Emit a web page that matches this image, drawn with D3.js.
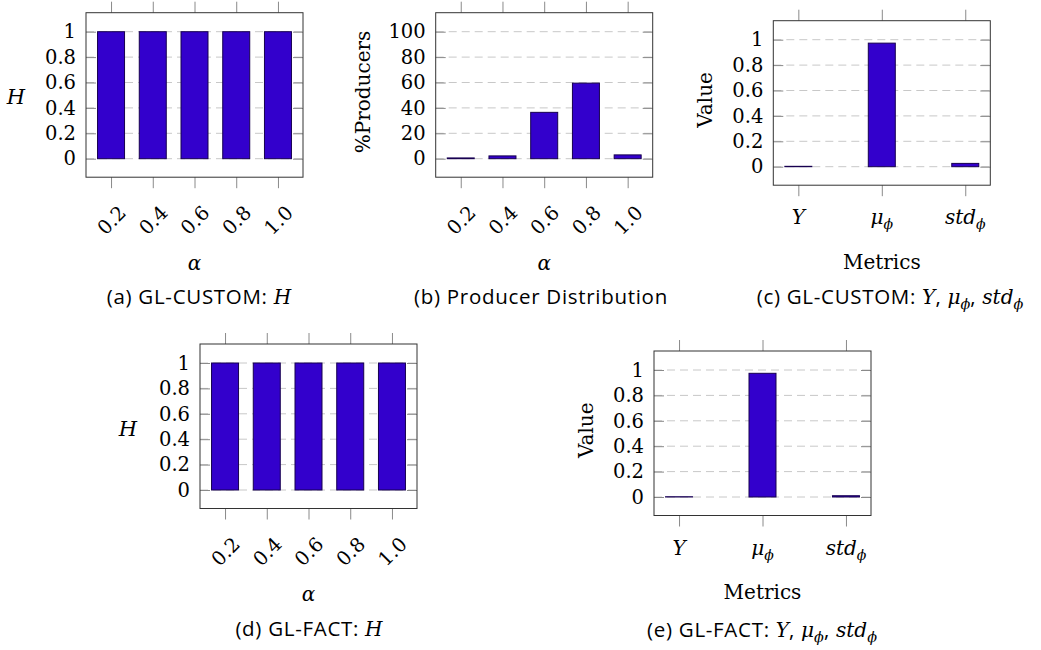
<!DOCTYPE html>
<html><head><meta charset="utf-8">
<script src="https://cdn.jsdelivr.net/npm/d3@7"></script>
<style>body{margin:0;background:#fff}</style>
</head><body><svg id="c" width="1041" height="650"></svg>
<script>
// ---- data ----
const alphaLabels = ["0.2","0.4","0.6","0.8","1.0"];
const hCustom = [1,1,1,1,1];
const producerPct = [0.6,2.2,36.5,59.5,3.0];
const metricNames = ["Y","μ","std"];
const metricSubs = ["","ϕ","ϕ"];
const metricsCustom = [0.003,0.973,0.026];
const hFact = [1,1,1,1,1];
const metricsFact = [0.002,0.974,0.01];
const unitTicks = [0,0.2,0.4,0.6,0.8,1];
const pctTicks = [0,20,40,60,80,100];

const SERIF = "'DejaVu Serif', serif";
const SANS = "'Open Sans', sans-serif";
const svg = d3.select("#c");
const W = 217, H = 164.5;

function rich(sel, parts, baseSize){
  let shifted = false;
  parts.forEach(p=>{
    const t = sel.append("tspan").text(p.t);
    if(p.sub){
      t.attr("font-family",SERIF).attr("font-style","italic").attr("font-size",baseSize*0.7).attr("dy",5).attr("letter-spacing",0);
      shifted = true;
    } else {
      if(shifted){ t.attr("dy",-5); shifted=false; }
      if(p.it){ t.attr("font-family",SERIF).attr("font-style","italic").attr("font-size",baseSize*0.98).attr("letter-spacing",0); }
    }
  });
}

function panel(o){
  const g = svg.append("g").attr("transform",`translate(${o.left},${o.top})`);
  const n = o.values.length;
  const pad = n===5?0.6:0.3;
  const x = d3.scaleLinear().domain([-pad,n-1+pad]).range([0,W]);
  const y = d3.scaleLinear().domain([-o.max*18.5/127, o.max*(1+19/127)]).range([H,0]);

  g.append("g").selectAll("line").data(o.ticks).join("line")
    .attr("x1",0).attr("x2",W).attr("y1",d=>y(d)).attr("y2",d=>y(d))
    .attr("stroke","#c8c8c8").attr("stroke-width",1).attr("stroke-dasharray","8,5");

  g.append("g").selectAll("rect").data(o.values).join("rect")
    .attr("x",(d,i)=>x(i)-13.5).attr("width",27)
    .attr("y",d=>y(d)).attr("height",d=>Math.max(0,y(0)-y(d)))
    .attr("fill","#3300cc").attr("stroke","#17004f").attr("stroke-width",1);

  const styleAxis = a=>{ a.select(".domain").remove(); a.selectAll(".tick line").attr("stroke","#8a8a8a"); };
  const la = g.append("g").call(d3.axisLeft(y).tickValues(o.ticks).tickSize(-10).tickPadding(10).tickFormat(o.fmt));
  styleAxis(la);
  la.attr("font-family",SERIF).attr("font-size",19.5);
  la.selectAll("text").attr("fill","#000");
  styleAxis(g.append("g").attr("transform",`translate(${W},0)`).call(d3.axisRight(y).tickValues(o.ticks).tickSize(-10).tickFormat("")));
  styleAxis(g.append("g").call(d3.axisTop(x).tickValues(d3.range(n)).tickSize(11).tickFormat("")));
  styleAxis(g.append("g").attr("transform",`translate(0,${H})`).call(d3.axisBottom(x).tickValues(d3.range(n)).tickSize(11).tickFormat("")));

  g.append("rect").attr("width",W).attr("height",H).attr("fill","none").attr("stroke","#333").attr("stroke-width",1);

  // x labels
  if(o.rotated){
    g.append("g").selectAll("text").data(o.cats).join("text")
      .attr("transform",(d,i)=>`translate(${x(i)+0.5},${H+43}) rotate(-45)`)
      .attr("text-anchor","middle").attr("dy","0.35em")
      .attr("font-family",SERIF).attr("font-size",19.5).text(d=>d);
  } else {
    g.append("g").selectAll("text").data(o.cats).join("text")
      .attr("x",(d,i)=>x(i)).attr("y",H+32).attr("dy","0.35em")
      .attr("text-anchor","middle").attr("font-family",SERIF).attr("font-style","italic").attr("font-size",20)
      .each(function(d,i){ const s=d3.select(this); s.append("tspan").text(d);
        if(o.subs[i]) s.append("tspan").attr("font-size",14).attr("dy",5).text(o.subs[i]); });
  }
  // x title
  g.append("text").attr("x",W/2).attr("y",H+o.xtY).attr("dy","0.35em").attr("text-anchor","middle")
    .attr("font-family",SERIF).attr("font-size",20).attr("font-style",o.xtIt?"italic":"normal").text(o.xtitle);
  // y title
  if(o.yRot){
    g.append("text").attr("transform",`translate(${o.yX},${H/2-3}) rotate(-90)`).attr("dy","0.35em")
      .attr("text-anchor","middle").attr("font-family",SERIF).attr("font-size",20).text(o.ytitle);
  } else {
    g.append("text").attr("x",o.yX).attr("y",H/2+2).attr("dy","0.35em").attr("text-anchor","middle")
      .attr("font-family",SERIF).attr("font-style","italic").attr("font-size",21).text(o.ytitle);
  }
  // caption
  const cap = svg.append("text").attr("x",o.capX).attr("y",o.top+H+o.capY).attr("dy","0.35em")
    .attr("text-anchor","middle").attr("font-family",SANS).attr("font-size",20.5).attr("letter-spacing",0.7)
    .attr("fill","#000");
  rich(cap,o.caption,20.5);
}

const fmtUnit = d=> (d===0||d===1)? String(d) : d3.format(".1f")(d);
const fmtPct = d=> String(d);
const capMetrics = lab=>[{t:lab},{t:"Y",it:1},{t:", "},{t:"μ",it:1},{t:"ϕ",sub:1},{t:", "},{t:"std",it:1},{t:"ϕ",sub:1}];

panel({left:86,top:12.7,values:hCustom,cats:alphaLabels,rotated:true,ticks:unitTicks,max:1,fmt:fmtUnit,
  xtitle:"α",xtIt:true,xtY:86,ytitle:"H",yRot:false,yX:-70,capX:199,capY:120,
  caption:[{t:"(a) GL-CUSTOM: "},{t:"H",it:1}]});
panel({left:435.7,top:12.7,values:producerPct,cats:alphaLabels,rotated:true,ticks:pctTicks,max:100,fmt:fmtPct,
  xtitle:"α",xtIt:true,xtY:86,ytitle:"%Producers",yRot:true,yX:-73,capX:541,capY:120,
  caption:[{t:"(b) Producer Distribution"}]});
panel({left:773.3,top:20.7,values:metricsCustom,cats:metricNames,subs:metricSubs,rotated:false,ticks:unitTicks,max:1,fmt:fmtUnit,
  xtitle:"Metrics",xtIt:false,xtY:77,ytitle:"Value",yRot:true,yX:-68,capX:890,capY:112,
  caption:capMetrics("(c) GL-CUSTOM: ")});
panel({left:200,top:344,values:hFact,cats:alphaLabels,rotated:true,ticks:unitTicks,max:1,fmt:fmtUnit,
  xtitle:"α",xtIt:true,xtY:85,ytitle:"H",yRot:false,yX:-72,capX:309,capY:120,
  caption:[{t:"(d) GL-FACT: "},{t:"H",it:1}]});
panel({left:654,top:351,values:metricsFact,cats:metricNames,subs:metricSubs,rotated:false,ticks:unitTicks,max:1,fmt:fmtUnit,
  xtitle:"Metrics",xtIt:false,xtY:76,ytitle:"Value",yRot:true,yX:-68,capX:762,capY:114,
  caption:capMetrics("(e) GL-FACT: ")});
</script></body></html>
